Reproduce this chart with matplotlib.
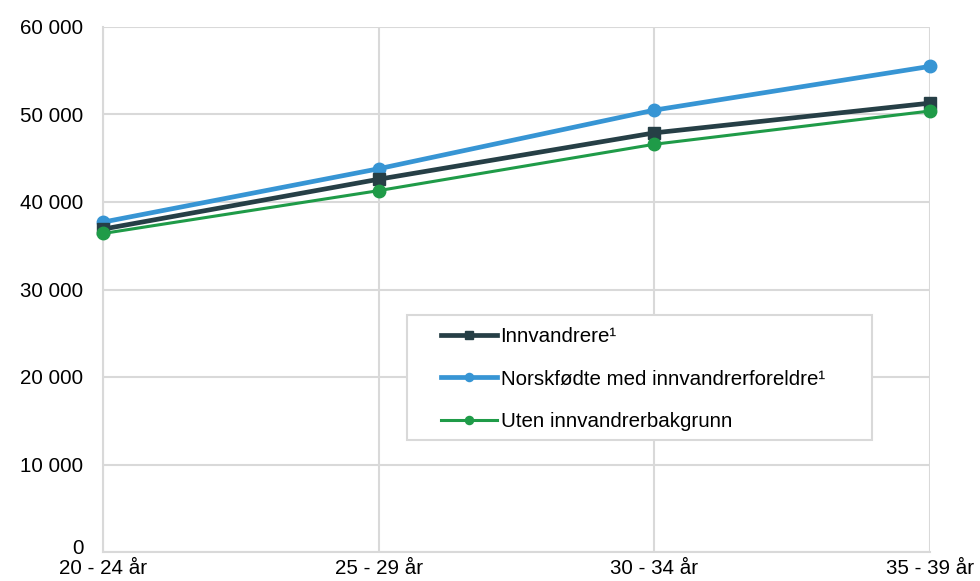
import matplotlib.pyplot as plt
from matplotlib.patches import Rectangle
from matplotlib.ticker import FuncFormatter
from matplotlib.transforms import ScaledTranslation

plt.rcParams['font.family'] = ['Liberation Sans', 'DejaVu Sans']

categories = ['20 - 24 år', '25 - 29 år', '30 - 34 år', '35 - 39 år']
innvandrere = [36900, 42600, 47900, 51300]
norskfodte = [37700, 43800, 50500, 55500]
uten = [36400, 41300, 46600, 50400]

W, H = 980, 581
fig, ax = plt.subplots(figsize=(W / 100, H / 100), dpi=100)
fig.subplots_adjust(left=103 / W, right=930 / W, top=1 - 27 / H, bottom=1 - 552 / H)

x = range(len(categories))
ax.plot(x, innvandrere, color='#263f46', lw=3.4, marker='s', ms=9,
        label='Innvandrere\u00b9', zorder=4, clip_on=False)
ax.plot(x, norskfodte, color='#3795d4', lw=3.4, marker='o', ms=9,
        label='Norskfødte med innvandrerforeldre\u00b9', zorder=3, clip_on=False)
ax.plot(x, uten, color='#1f9b48', lw=2.2, marker='o', ms=9,
        label='Uten innvandrerbakgrunn', zorder=5, clip_on=False)

ax.set_xlim(0, 3)
ax.set_ylim(0, 60000)
ax.set_yticks(range(0, 60001, 10000))
ax.yaxis.set_major_formatter(FuncFormatter(lambda v, p: f'{int(v):,}'.replace(',', ' ')))
ax.set_xticks(list(x))
ax.set_xticklabels(categories)

ax.grid(True, color='#d9d9d9', lw=1.5)
ax.set_axisbelow(True)
for s in ['top', 'right']:
    ax.spines[s].set_visible(False)
for s in ['left', 'bottom']:
    ax.spines[s].set_color('#d9d9d9')
    ax.spines[s].set_linewidth(1.5)
ax.tick_params(length=0, labelsize=14.8)
ax.tick_params(axis='y', pad=14)
ax.tick_params(axis='x', pad=5)
# lift the "0" a little so it sits just above the first category label
zero = ax.yaxis.get_major_ticks()[0].label1
zero.set_transform(zero.get_transform() + ScaledTranslation(0, 4 / 72, fig.dpi_scale_trans))

# legend frame (Excel style, with blank space left of the handles)
ax.add_patch(Rectangle((407 / W, 1 - 440 / H), (872 - 407) / W, (440 - 315) / H,
                       transform=fig.transFigure, facecolor='white',
                       edgecolor='#d9d9d9', lw=1.5, zorder=6))
leg = ax.legend(loc='upper left', bbox_to_anchor=(441 / W, 1 - 327 / H),
                bbox_transform=fig.transFigure, frameon=False, borderpad=0,
                borderaxespad=0, fontsize=14.8, handlelength=2.7,
                handletextpad=0.2, labelspacing=1.15, markerscale=0.65)
leg.set_zorder(7)

fig.savefig('out.png')
